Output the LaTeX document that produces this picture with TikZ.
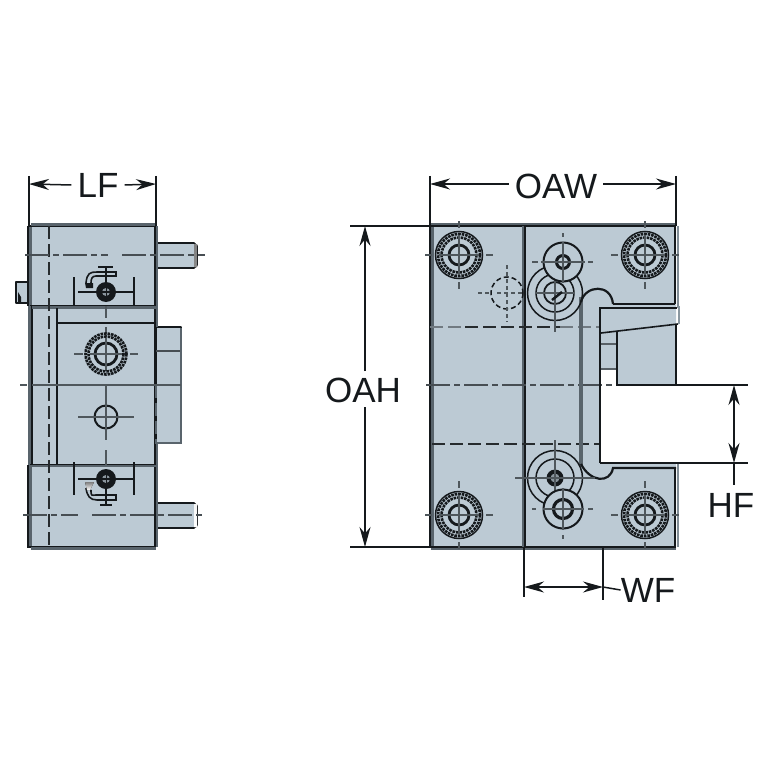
\documentclass[tikz,border=0pt]{standalone}
\usepackage{fontspec}
\setmainfont{Liberation Sans}
\usetikzlibrary{arrows.meta}
\definecolor{bodyc}{HTML}{BCCAD4}
\definecolor{ink}{HTML}{15191C}
\definecolor{shade}{HTML}{59646C}
\tikzset{
  part/.style={fill=bodyc,draw=ink,line width=1.6pt,line join=round},
  edge/.style={draw=ink,line width=1.6pt},
  heavy/.style={draw=shade,line width=3pt},
  centre/.style={draw=ink!70!bodyc,line width=1.2pt,dash pattern=on 24pt off 4pt on 6pt off 4pt},
  hidden/.style={draw=ink!90!bodyc,line width=1.3pt,dash pattern=on 13pt off 5pt},
  tick/.style={draw=ink!65!bodyc,line width=1.2pt},
  ring/.style={draw=ink,line width=1.5pt},
  thick ring/.style={draw=ink,line width=2.8pt},
  knurl/.style={draw=ink,line width=2.6pt,dash pattern=on 2.6pt off .9pt},
  dim/.style={draw=ink,line width=1.5pt},
  dimarrow/.style={dim,-{Stealth[length=20pt,width=11pt]}},
  extline/.style={draw=ink,line width=1.5pt},
  label/.style={font=\fontsize{35}{35}\selectfont,text=ink,inner sep=0pt},
}
\newcommand{\bolt}[2]{%
  \fill[bodyc] (#1,#2) circle (23);
  \draw[ring] (#1,#2) circle (23.5);
  \draw[knurl] (#1,#2) circle (21);
  \draw[knurl] (#1,#2) circle (17.5);
  \draw[thick ring] (#1,#2) circle (10);
  \draw[tick] (#1-34,#2)--(#1-27,#2) (#1-20,#2)--(#1+20,#2) (#1+27,#2)--(#1+34,#2)
    (#1,#2-34)--(#1,#2-27) (#1,#2-20)--(#1,#2+20) (#1,#2+27)--(#1,#2+34);}
\newcommand{\lscrew}[2]{%
  \fill[ink] (#1,#2) circle (10);
  \fill[bodyc!70!ink] (#1,#2) circle (4);
  \draw[tick,line width=.7pt,draw=ink] (#1-4,#2)--(#1+4,#2) (#1,#2-4)--(#1,#2+4);
  \draw[edge] (#1-28,#2)--(#1+28,#2);}
\begin{document}
\begin{tikzpicture}[x=1pt,y=-1pt]
\useasboundingbox (0,0) rectangle (767,767);
\fill[white] (0,0) rectangle (767,767);

%%% LEFT VIEW
\draw[part] (156,243) -- (194,243) -- (197,246) -- (197,265) -- (194,268) -- (156,268) -- cycle;
\draw[part] (156,503) -- (194,503) -- (197,506) -- (197,525) -- (194,528) -- (156,528) -- cycle;
\fill[shade] (194,244) rectangle (197,267) (194,504) rectangle (197,527);
\draw[part] (156,327) -- (181,327) -- (181,443) -- (156,443) -- cycle;
\draw[edge,draw=ink!70!bodyc] (156,351) -- (181,351);
\draw[heavy,line width=2.5pt] (181,328) -- (181,443) -- (156,443);
% small tab
\draw[part] (16,282) rectangle (28,303);
\fill[ink] (18,292) -- (21,297) -- (21,302) -- (18,302) -- cycle;
% body
\fill[bodyc] (28,226) rectangle (156,547);
\draw[heavy,line width=4pt] (30,226)--(30,547);
\draw[edge] (28,226)--(28,306) (32,306)--(32,465) (28,465)--(28,547)--(156,547) (28,226)--(156,226);
\draw[heavy,line width=2.5pt] (31,224.5)--(156,224.5) (31,548.5)--(156,548.5);
\draw[heavy,line width=3pt] (156,226)--(156,327) (156,444)--(156,547);
\draw[edge] (155,226)--(155,547);
\draw[heavy,line width=3.5pt] (32,307)--(156,307) (32,465.5)--(156,465.5);
\draw[edge] (30,305.5)--(156,305.5) (30,464.5)--(156,464.5);
\draw[edge] (57,308)--(57,464) (57,323)--(156,323);
\draw[edge] (57,385)--(156,385);
% hidden + centre lines
\draw[hidden] (49,226)--(49,547);
\draw[hidden,draw=shade] (156,385)--(156,444);
\draw[centre] (25,255)--(108,255);
\draw[centre] (122,255)--(205,255);
\draw[centre] (23,515)--(78,515);
\draw[centre] (92,515)--(205,515);
\draw[tick] (20,385)--(27,385) (32,385)--(181,385);
\draw[tick] (106,306)--(106,318) (106,327)--(106,334) (106,340)--(106,371) (106,385)--(106,398);
\draw[tick] (106,398)--(106,440) (106,450)--(106,465);
% big left screw
\draw[tick] (74,354)--(83,354) (130,354)--(138,354);
\draw[knurl] (106,354) circle (20.5);
\draw[knurl] (106,354) circle (17.5);
\draw[thick ring] (106,354) circle (11);
\draw[tick] (90,354)--(122,354) (106,338)--(106,370);
% small circle
\draw[ring,line width=2pt] (106,417) circle (11.5);
\draw[tick] (78,417)--(134,417) (106,400)--(106,434);
% top screw
\draw[edge] (74,277)--(74,306) (134,277)--(134,306);
\lscrew{106}{292}
\draw[edge] (86,283) .. controls (87,273) and (90,272) .. (97,272) -- (116,272) -- (116,276) -- (96,276)
   .. controls (92,276) and (91,279) .. (91,283);
\draw[edge] (106,266)--(106,283);
\draw[edge] (98,267)--(113,267);
\fill[ink] (85,283) -- (93,283) -- (93,288) -- (86,288) -- cycle;
% bottom screw
\draw[edge] (74,462)--(74,495) (134,462)--(134,495);
\lscrew{106}{479}
\draw[edge] (91,490) .. controls (91,497) and (92,495) .. (96,495) -- (116,495) -- (116,500) -- (97,500)
   .. controls (90,500) and (87,496) .. (86,488);
\draw[edge] (106,488)--(106,505);
\draw[edge] (100,505)--(112,505);
\fill[shade] (85,482) -- (94,482) -- (90,490) -- (87,490) -- cycle;

%%% RIGHT VIEW
\fill[bodyc] (430,226) -- (676,226) -- (676,385) -- (617,385) -- (617,369) -- (600,369) -- (600,463) -- (676,463) -- (676,547) -- (430,547) -- cycle;
\draw[heavy,line width=2.5pt] (431,224.5)--(676,224.5) (431,548.5)--(676,548.5);
\draw[edge] (430,226)--(430,547)--(676,547) (430,226)--(676,226);
\draw[heavy,line width=2.5pt] (432.5,227)--(432.5,546);
\draw[heavy,line width=3pt] (523,226)--(523,547);
\draw[edge] (525,226)--(525,547);
% right edge
\draw[edge] (675,226)--(675,304);
\draw[edge] (675,468)--(675,547);
\draw[heavy,line width=2pt,draw=shade!60!bodyc] (677.5,226)--(677.5,308) (677.5,463)--(677.5,547);
% centre & hidden lines
\draw[hidden,draw=ink!45!bodyc] (430,327)--(465,327);
\draw[hidden] (465,327)--(560,327);
\draw[hidden,draw=ink!45!bodyc] (560,327)--(600,327);
\draw[hidden] (432,444)--(600,444);
\draw[centre] (426,385)--(617,385);
% slot
\draw[edge] (613,304)--(675,304);
\draw[edge] (600,463)--(676,463);
\draw[heavy,line width=4.5pt] (581,297)--(581,466);
\draw[ring,line width=2.2pt] (581,302) .. controls (585,285) and (611,283) .. (613,304);
\draw[ring,line width=2.2pt] (581,464) .. controls (590,482) and (610,484) .. (613,468) -- (676,468);
% clamp block
\fill[bodyc] (600,308) rectangle (676,369);
\draw[edge] (600,308)--(677,308);
\draw[edge,line width=2pt] (600,307)--(600,463);
\draw[edge] (601,333)--(678,324);
\draw[edge,line width=1.2pt,draw=ink!60!bodyc] (601,344)--(617,344) (601,369)--(617,369);
\draw[edge] (617,332)--(617,385) -- (676,385) -- (676,325);
\draw[heavy,line width=2pt,draw=shade!50!bodyc] (679,306)--(679,324);
% bolts
\bolt{459}{255}
\bolt{645}{255}
\bolt{459}{515}
\bolt{645}{515}
% dashed circle
\draw[ring,dash pattern=on 5pt off 3pt] (507,293) circle (16);
\draw[tick,dash pattern=on 4pt off 3pt] (478,293)--(490,293) (497,293)--(524,293) (507,265)--(507,322);
% top cluster
\draw[ring] (555,293) circle (27.5);
\draw[ring] (555,293) circle (19);
\draw[ring,line width=1.8pt] (555,293) circle (11);
\draw[tick] (555,270)--(555,332);
\draw[tick] (535,293)--(575,293);
\draw[ink,line width=2.5pt] (552,300)--(562,292);
\fill[bodyc] (563,262) circle (19.5);
\draw[ring,line width=2pt] (563,262) circle (19.5);
\draw[ink,line width=3pt] (563,262) circle (6.5);
\draw[tick] (532,262)--(538,262) (541,262)--(585,262) (588,262)--(593,262) (563,233)--(563,237) (563,242)--(563,283);
% bottom cluster
\draw[ring] (555,478) circle (27.5);
\draw[ring] (555,478) circle (19);
\fill[ink] (555,478) circle (8.5);
\fill[bodyc!70!ink] (555,478) circle (4.5);
\draw[tick] (515,478)--(595,478) (555,440)--(555,506);
\fill[bodyc] (563,509) circle (19.5);
\draw[ring,line width=2pt] (563,509) circle (19.5);
\draw[ink,line width=3.2pt] (563,509) circle (9.5);
\draw[tick] (532,509)--(536,509) (588,509)--(593,509) (543,509)--(584,509) (563,488)--(563,530) (563,535)--(563,539);

%%% DIMENSIONS
\coordinate (lfa) at (29,184); \coordinate (lfb) at (156,184);
\node[label] (lf) at (98,185) {LF};
\draw[extline] (29,176)--(29,226) (156,176)--(156,226);
\draw[dimarrow] (lf.west)+(-6,0) -- (lfa);
\draw[dimarrow] (lf.east)+(6,0) -- (lfb);
\coordinate (owa) at (430,184); \coordinate (owb) at (676,184);
\node[label] (oaw) at (556,186) {OAW};
\draw[extline] (430,176)--(430,226) (676,176)--(676,226);
\draw[dimarrow] (oaw.west)+(-6,-2) -- (owa);
\draw[dimarrow] (oaw.east)+(6,-2) -- (owb);
\coordinate (oha) at (365,226); \coordinate (ohb) at (365,547);
\node[label] (oah) at (363,390) {OAH};
\draw[extline] (350,226)--(430,226) (350,547)--(430,547);
\draw[dimarrow] (365,371) -- (oha);
\draw[dimarrow] (365,407) -- (ohb);
\coordinate (hfa) at (734,385); \coordinate (hfb) at (734,463);
\coordinate (hfc) at (734,485);
\node[label] (hf) at (731,505) {HF};
\draw[extline] (676,385)--(748,385) (676,463)--(748,463);
\draw[dim,{Stealth[length=20pt,width=11pt]}-{Stealth[length=20pt,width=11pt]}] (hfa) -- (hfb);
\draw[dim] (hfb) -- (hfc);
\coordinate (wfa) at (524,587); \coordinate (wfb) at (603,587);
\node[label] (wf) at (648,590) {WF};
\draw[extline] (524,547)--(524,597) (603,547)--(603,600);
\draw[dim,{Stealth[length=20pt,width=11pt]}-{Stealth[length=20pt,width=11pt]}] (wfa) -- (wfb);
\draw[dim] (wfb) -- (wf.west);
\end{tikzpicture}
\end{document}
